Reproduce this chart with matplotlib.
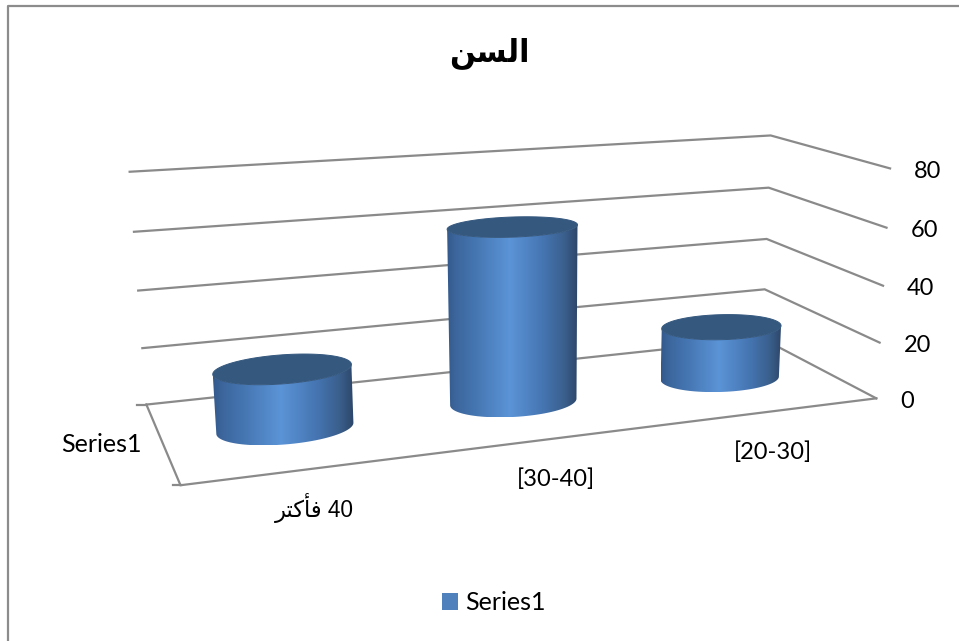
import numpy as np
import matplotlib
matplotlib.use("Agg")
import matplotlib.pyplot as plt
from matplotlib.colors import LinearSegmentedColormap
from matplotlib.patches import Patch, Polygon

# Arabic strings are written in shaped presentation forms, left to right,
# since matplotlib does no shaping of its own
title = "\ufee6\ufeb4\ufedf\ufe8d"
categories = ["\ufeae\ufe98\ufedb\ufe84\ufed3 40", "[30-40]", "[20-30]"]
values = [20, 61, 19]
levels = [0, 20, 40, 60, 80]
series_name = "Series1"

# box corners (u along categories, v into the page, value) and where they land on the page
box_pts = [(0, 1, 0), (0, 1, 20), (0, 1, 40), (0, 1, 60), (0, 1, 80),
           (1, 1, 0), (1, 1, 20), (1, 1, 40), (1, 1, 60), (1, 1, 80),
           (1, 0, 0), (1, 0, 20), (1, 0, 40), (1, 0, 60), (1, 0, 80),
           (0, 0, 0)]
page_pts = [(147, 404), (142, 349), (138, 291), (134, 232), (130, 171),
            (763, 340), (765, 289), (767, 239), (768, 187), (770, 135),
            (875, 398), (880, 342), (884, 285), (887, 228), (890, 170),
            (180, 485)]


def fit_camera(world, page):
    rows = []
    for (u, v, h), (x, y) in zip(world, page):
        rows.append([u, v, h, 1, 0, 0, 0, 0, -x*u, -x*v, -x*h, -x])
        rows.append([0, 0, 0, 0, u, v, h, 1, -y*u, -y*v, -y*h, -y])
    _, _, vt = np.linalg.svd(np.array(rows, dtype=float))
    return vt[-1].reshape(3, 4)


cam = fit_camera(box_pts, page_pts)


def project(u, v, h):
    u, v, h = np.broadcast_arrays(u, v, h)
    p = cam @ np.stack([u, v, h, np.ones_like(u, dtype=float)])
    return p[0] / p[2], p[1] / p[2]


fig = plt.figure(figsize=(9.59, 6.41), dpi=100)
ax = fig.add_axes([0, 0, 1, 1])
ax.axis("off")

plt.rcParams["font.family"] = ["Lato", "DejaVu Sans"]
grid_col = "#8a8a8a"
grid_lw = 1.6
label_size = 17

# chart frame
ax.plot([8, 8, 959], [641, 6, 6], color="#8c8c8c", lw=1.6, zorder=1)

# back wall and side wall lines
for lev in levels:
    x, y = project([0, 1, 1], [1, 1, 0], lev)
    ax.plot(x, y, color=grid_col, lw=grid_lw, zorder=2, solid_joinstyle="miter")
    ax.text(x[-1] + 24, y[-1] + 3, str(lev), fontsize=label_size, color="black",
            ha="left", va="center", zorder=5)

# floor edges and the two small ticks on the left
x, y = project([0, 0, 1], [1, 0, 0], 0)
ax.plot(x, y, color=grid_col, lw=grid_lw, zorder=2, solid_joinstyle="miter")
x0, y0 = project(0, 1, 0)
ax.plot([x0 - 9, x0], [y0, y0], color=grid_col, lw=grid_lw, zorder=2)
x0, y0 = project(0, 0, 0)
ax.plot([x0 - 8, x0], [y0, y0], color=grid_col, lw=grid_lw, zorder=2)

# cylinders: a horizontal gradient clipped to the outline of each wall
side_cmap = LinearSegmentedColormap.from_list(
    "side",
    [(0.0, "#345a8c"), (0.06, "#3c659c"), (0.2, "#4474af"), (0.48, "#5b94d7"),
     (0.75, "#4473af"), (0.9, "#3a5f8c"), (1.0, "#2d4669")])
gradient = np.linspace(0, 1, 256).reshape(1, -1)
r_u = 0.094
r_v = 0.2
full = np.linspace(0, 2*np.pi, 361)
for i, val in enumerate(values):
    uc = (i + 0.5) / len(values)
    eu = uc + r_u*np.cos(full)
    ev = 0.5 + r_v*np.sin(full)
    xb, yb = project(eu, ev, 0)
    xt, yt = project(eu, ev, val)
    # front half of each ring, split at its leftmost and rightmost points
    ib0, ib1 = np.argmin(xb), np.argmax(xb)
    it0, it1 = np.argmin(xt), np.argmax(xt)
    base = np.arange(ib0, ib1 + 1 if ib1 > ib0 else ib1 + 361) % 360
    top = np.arange(it0, it1 + 1 if it1 > it0 else it1 + 361) % 360
    outline = np.vstack([np.column_stack([xb[base], yb[base]]),
                         np.column_stack([xt[top], yt[top]])[::-1]])
    clip = Polygon(outline, closed=True, transform=ax.transData, fc="none", ec="none")
    ax.add_patch(clip)
    im = ax.imshow(gradient, cmap=side_cmap, vmin=0, vmax=1, aspect="auto",
                   extent=(outline[:, 0].min(), outline[:, 0].max(), outline[:, 1].max(),
                           outline[:, 1].min()),
                   interpolation="bilinear", zorder=3)
    im.set_clip_path(clip)
    ax.fill(xt, yt, facecolor="#35587f", edgecolor="#35587f", lw=0.7, zorder=4)

ax.set_xlim(0, 959)
ax.set_ylim(641, 0)

# labels
ax.text(489, 53, title, fontsize=22, fontweight="bold", ha="center", va="center",
        family=["DejaVu Sans"], zorder=5)
cat_pos = [(314, 508), (556, 479), (773, 452)]
for lab, (tx, ty) in zip(categories, cat_pos):
    fam = ["Liberation Sans", "DejaVu Sans"] if lab == categories[0] else ["Lato", "DejaVu Sans"]
    ax.text(tx, ty, lab, fontsize=16.3 if lab == categories[0] else label_size,
            ha="center", va="center", family=fam, zorder=5)
ax.text(101, 445, series_name, fontsize=18, ha="center", va="center", zorder=5)

ax.legend(handles=[Patch(facecolor="#4f81bd", edgecolor="none", label=series_name)],
          loc="center", bbox_to_anchor=(494/959, 1 - 603/641), frameon=False,
          fontsize=18, handlelength=0.64, handleheight=0.64, handletextpad=0.3,
          borderpad=0, borderaxespad=0)

fig.savefig("out.png", dpi=100)
